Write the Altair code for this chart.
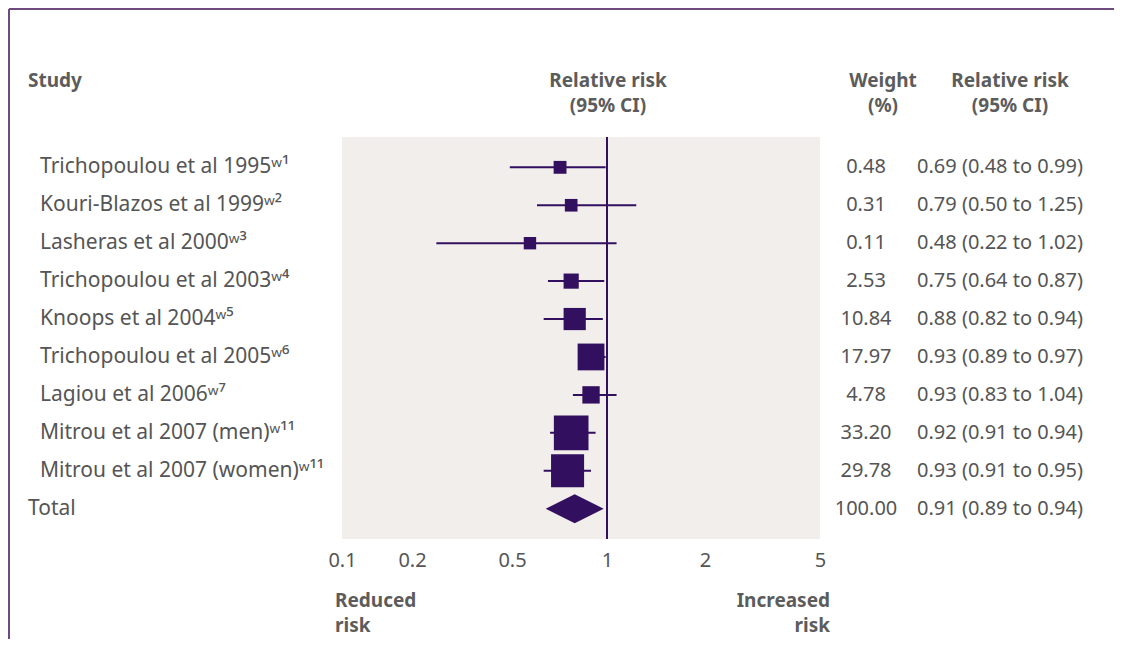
import altair as alt
import pandas as pd

# ---- data ----
studies = [
    "Trichopoulou et al 1995ʷ¹",
    "Kouri-Blazos et al 1999ʷ²",
    "Lasheras et al 2000ʷ³",
    "Trichopoulou et al 2003ʷ⁴",
    "Knoops et al 2004ʷ⁵",
    "Trichopoulou et al 2005ʷ⁶",
    "Lagiou et al 2006ʷ⁷",
    "Mitrou et al 2007 (men)ʷ¹¹",
    "Mitrou et al 2007 (women)ʷ¹¹",
    "Total",
]
kinds = ["study"] * 9 + ["total"]
weights = [0.48, 0.31, 0.11, 2.53, 10.84, 17.97, 4.78, 33.20, 29.78, 100.00]
# printed relative risks (95% CI)
rr_printed = [0.69, 0.79, 0.48, 0.75, 0.88, 0.93, 0.93, 0.92, 0.93, 0.91]
lo_printed = [0.48, 0.50, 0.22, 0.64, 0.82, 0.89, 0.83, 0.91, 0.91, 0.89]
hi_printed = [0.99, 1.25, 1.02, 0.87, 0.94, 0.97, 1.04, 0.94, 0.95, 0.94]
# positions of the drawn markers / whiskers as read against the axis
rr_drawn = [0.71, 0.77, 0.57, 0.77, 0.79, 0.89, 0.89, 0.77, 0.75, 0.79]
lo_drawn = [0.49, 0.60, 0.25, 0.65, 0.63, 0.83, 0.78, 0.66, 0.63, 0.64]
hi_drawn = [0.99, 1.23, 1.07, 0.98, 0.97, 0.99, 1.07, 0.92, 0.89, 0.98]
tick_values = [0.1, 0.2, 0.5, 1, 2, 5]
reference_value = [1]
header_study = ["Study"]
header_forest = ["Relative risk\n(95% CI)"]
header_weight = ["Weight\n(%)"]
header_ci = ["Relative risk\n(95% CI)"]
footer_left = ["Reduced\nrisk"]
footer_right = ["Increased\nrisk"]

df = pd.DataFrame({
    "study": studies,
    "kind": kinds,
    "weight": weights,
    "rr": rr_drawn,
    "lo": lo_drawn,
    "hi": hi_drawn,
    "wlabel": [f"{w:.2f}" for w in weights],
    "cilabel": [f"{r:.2f} ({l:.2f} to {h:.2f})" for r, l, h in zip(rr_printed, lo_printed, hi_printed)],
})

MARK = "#32105f"
TXT = "#555555"
HDR = "#5c5c5c"
FRAME = "#6e4b7e"
FONT = "Noto Sans"

x_scale = alt.Scale(type="log", domain=tick_values, range=[0, 70, 170, 265, 363, 478],
                    nice=False, zero=False)
x_axis = alt.Axis(values=tick_values, format="~g", title=None, ticks=False, domain=False,
                  grid=False, labelPadding=11, labelFont=FONT, labelFontSize=20,
                  labelColor=TXT, labelOverlap=False, labelFlush=False)
y_enc = alt.Y("study:N", sort=studies, scale=alt.Scale(type="point", padding=0.8), axis=None)

base = alt.Chart(df)
studies_only = base.transform_filter("datum.kind == 'study'")
total_only = base.transform_filter("datum.kind == 'total'")

ci = studies_only.mark_rule(color=MARK, strokeWidth=2).encode(
    x=alt.X("lo:Q", scale=x_scale, axis=x_axis), x2="hi:Q", y=y_enc)

ref = alt.Chart(pd.DataFrame({"ref": reference_value})).mark_rule(
    color=MARK, strokeWidth=2).encode(x=alt.X("ref:Q", scale=x_scale, axis=x_axis))

squares = studies_only.mark_point(shape="square", filled=True, opacity=1, color=MARK).encode(
    x=alt.X("rr:Q", scale=x_scale, axis=x_axis), y=y_enc,
    size=alt.Size("weight:Q", scale=alt.Scale(domain=[0, 33.2], range=[150, 1200]), legend=None))

diamond = total_only.mark_point(shape="M-1,0L0,-0.5L1,0L0,0.5Z", filled=True, opacity=1,
                                size=3364, color=MARK).encode(
    x=alt.X("rr:Q", scale=x_scale, axis=x_axis), y=y_enc)

lbl = studies_only.mark_text(align="left", baseline="middle", font=FONT, fontSize=21,
                             color=TXT).encode(y=y_enc, text="study:N", x=alt.value(-302))
lbl_total = total_only.mark_text(align="left", baseline="middle", font=FONT, fontSize=21,
                                 color=TXT).encode(y=y_enc, text="study:N", x=alt.value(-314))
wtxt = base.mark_text(align="center", baseline="middle", font=FONT, fontSize=20,
                      color=TXT).encode(y=y_enc, text="wlabel:N", x=alt.value(524))
citxt = base.mark_text(align="left", baseline="middle", font=FONT, fontSize=20,
                       color=TXT).encode(y=y_enc, text="cilabel:N", x=alt.value(575))


def header(texts, x, y, align):
    return alt.Chart(pd.DataFrame({"t": texts})).mark_text(
        align=align, baseline="alphabetic", lineBreak="\n", lineHeight=25,
        font=FONT, fontSize=19, fontWeight="bold", color=HDR
    ).encode(text="t:N", x=alt.value(x), y=alt.value(y))


h1 = header(header_study, -314, -50, "left")
h2 = header(header_forest, 266, -50, "center")
h3 = header(header_weight, 541, -50, "center")
h4 = header(header_ci, 668, -50, "center")
f1 = header(footer_left, -7, 470, "left")
f2 = header(footer_right, 488, 470, "right")

frame_src = pd.DataFrame({"edge": ["frame"]})
frame_top = alt.Chart(frame_src).mark_rule(color=FRAME, strokeWidth=2).encode(
    x=alt.value(-333), x2=alt.value(772), y=alt.value(-128))
frame_left = alt.Chart(frame_src).mark_rule(color=FRAME, strokeWidth=2).encode(
    x=alt.value(-333), y=alt.value(-128), y2=alt.value(502))

chart = alt.layer(
    ci, ref, squares, diamond, lbl, lbl_total, wtxt, citxt,
    h1, h2, h3, h4, f1, f2, frame_top, frame_left
).properties(width=478, height=402, padding=0, background="white").configure_view(
    fill="#f1eeeb", stroke="transparent", strokeWidth=0
)

chart.save("out.html", embed_options={"renderer": "svg", "actions": False})
